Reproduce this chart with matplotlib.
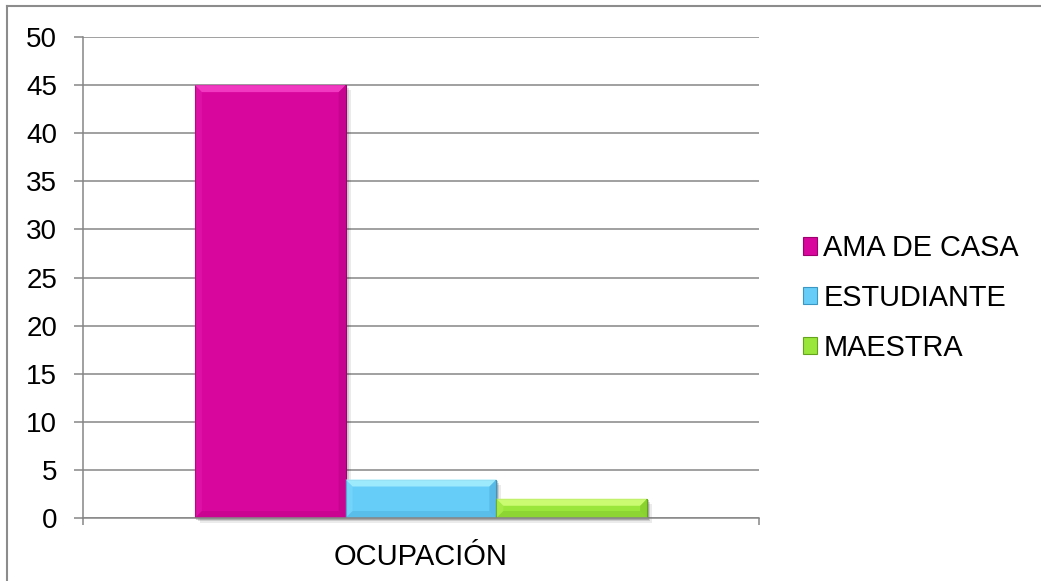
import matplotlib.pyplot as plt
from matplotlib.patches import Polygon, Rectangle
from matplotlib.lines import Line2D

# datos de la gráfica
categoria = 'OCUPACIÓN'
series = ['AMA DE CASA', 'ESTUDIANTE', 'MAESTRA']
valores = [45, 4, 2]
yticks = [0, 5, 10, 15, 20, 25, 30, 35, 40, 45, 50]

colores = ['#D9069E', '#66CCF8', '#9AE63A']
claros = ['#F542C8', '#A9F0FF', '#D4FF7C']
oscuros = ['#9E006E', '#3A96C2', '#64A41C']
gris = '#868686'

plt.rcParams['font.family'] = ['Liberation Sans', 'DejaVu Sans']

W, H = 1041, 581
fig = plt.figure(figsize=(W / 100, H / 100), dpi=100)
ax = fig.add_axes([83 / W, 63 / H, 676 / W, 481 / H])

ancho = 0.223
xs = [(i - 1) * ancho for i in range(len(valores))]

ax.set_xlim(-0.5, 0.5)
ax.set_ylim(0, 50)


def bisel(ax, bar, claro, oscuro, d=7):
    # bordes biselados tipo Excel, calculados en pixeles
    tr = ax.transData
    x0, y0 = tr.transform((bar.get_x(), bar.get_y()))
    x1, y1 = tr.transform((bar.get_x() + bar.get_width(), bar.get_y() + bar.get_height()))
    d = min(d, (y1 - y0) / 2.5, (x1 - x0) / 2.5)
    inv = tr.inverted()
    caras = [
        ([(x0, y1), (x1, y1), (x1 - d, y1 - d), (x0 + d, y1 - d)], claro, 0.85),
        ([(x0, y0), (x0, y1), (x0 + d, y1 - d), (x0 + d, y0 + d)], claro, 0.2),
        ([(x1, y0), (x1, y1), (x1 - d, y1 - d), (x1 - d, y0 + d)], oscuro, 0.3),
        ([(x0, y0), (x1, y0), (x1 - d, y0 + d), (x0 + d, y0 + d)], oscuro, 0.25),
    ]
    for pts, c, a in caras:
        ax.add_patch(Polygon(inv.transform(pts), closed=True, facecolor=c,
                             edgecolor='none', alpha=a, zorder=4))
    # sombra suave a la derecha y abajo
    for k, a in [(5, 0.08), (3, 0.12), (1.5, 0.18)]:
        p0 = inv.transform((x0 + k, y0 - k))
        p1 = inv.transform((x1 + k, y1 - k))
        ax.add_patch(Rectangle(p0, p1[0] - p0[0], p1[1] - p0[1], facecolor='black',
                               edgecolor='none', alpha=a, zorder=2.5, clip_on=False))


barras = ax.bar(xs, valores, width=ancho, color=colores, edgecolor=oscuros,
                linewidth=0.8, zorder=3)
for bar, c1, c2 in zip(barras, claros, oscuros):
    bisel(ax, bar, c1, c2)

# ejes y rejilla
ax.set_yticks(yticks)
ax.yaxis.grid(True, color=gris, linewidth=1.1)
ax.set_axisbelow(True)
for s in ['top', 'right']:
    ax.spines[s].set_visible(False)
for s in ['left', 'bottom']:
    ax.spines[s].set_color(gris)
    ax.spines[s].set_linewidth(1.1)
ax.spines['bottom'].set_zorder(5)

ax.tick_params(axis='y', direction='out', length=6.5, width=1.1, color=gris,
               labelsize=20, pad=12)
ax.set_xticks([-0.5, 0.5])
ax.set_xticklabels(['', ''])
ax.tick_params(axis='x', which='major', direction='out', length=5, width=1.1, color=gris)
ax.set_xticks([0], [categoria], minor=True)
ax.tick_params(axis='x', which='minor', length=0, labelsize=21, pad=18)

# leyenda
manijas = [Rectangle((0, 0), 1, 1, facecolor=c, edgecolor=o, linewidth=0.8)
           for c, o in zip(colores, oscuros)]
fig.legend(manijas, series, loc='center left', bbox_to_anchor=(803 / W, 1 - 298 / H),
           frameon=False, fontsize=20.8, handlelength=0.5, handleheight=0.55,
           handletextpad=0.2, labelspacing=0.75, borderpad=0, borderaxespad=0)

# marco del gráfico
fig.add_artist(Line2D([7 / W, 7 / W], [1 - 6 / H, 0], transform=fig.transFigure,
                      color='#8C8C8C', linewidth=1.5))
fig.add_artist(Line2D([7 / W, 1], [1 - 6 / H, 1 - 6 / H], transform=fig.transFigure,
                      color='#8C8C8C', linewidth=1.5))

fig.savefig('out.png', dpi=100, facecolor='white')
